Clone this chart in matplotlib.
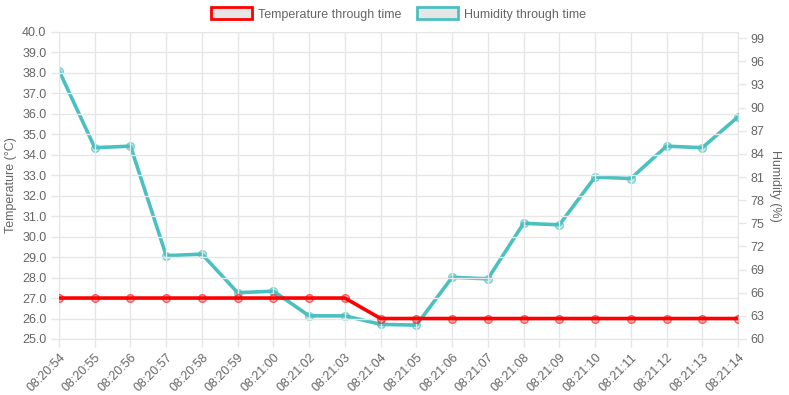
import matplotlib.pyplot as plt
from matplotlib.patches import Patch

# datos
times = ['08:20:54', '08:20:55', '08:20:56', '08:20:57', '08:20:58', '08:20:59',
         '08:21:00', '08:21:02', '08:21:03', '08:21:04', '08:21:05', '08:21:06',
         '08:21:07', '08:21:08', '08:21:09', '08:21:10', '08:21:11', '08:21:12',
         '08:21:13', '08:21:14']
temperature = [27, 27, 27, 27, 27, 27, 27, 27, 27, 26,
               26, 26, 26, 26, 26, 26, 26, 26, 26, 26]
humidity = [94.8, 84.8, 85, 70.8, 71, 66, 66.2, 63, 63, 61.9,
            61.8, 68, 67.8, 75, 74.8, 81, 80.8, 85, 84.8, 88.8]

red = '#ff0000'
teal = '#4bc0c0'
txt = '#666666'
grid = '#e6e6e6'

plt.rcParams['font.family'] = ['Liberation Sans', 'DejaVu Sans']

fig = plt.figure(figsize=(7.89, 3.95), dpi=100)
ax = fig.add_axes([0.0748, 0.1418, 0.8606, 0.7772])
ax2 = ax.twinx()

x = list(range(len(times)))

ax.plot(x, temperature, color=red, lw=2.6, marker='o', ms=5.5,
        mfc=(1, 0, 0, 0.25), mec=(1, 0, 0, 0.6), mew=1, zorder=3)
ax2.plot(x, humidity, color=teal, lw=2.6, marker='o', ms=5.5,
         mfc=(0.29, 0.75, 0.75, 0.3), mec=(0.29, 0.75, 0.75, 0.7), mew=1, zorder=3)
ax.set_zorder(ax2.get_zorder() + 1)
ax.patch.set_visible(False)

ax.set_xlim(0, len(times) - 1)
ax.set_ylim(25, 40)
ax.set_yticks([25 + i for i in range(16)])
ax.set_yticklabels(['%.1f' % (25 + i) for i in range(16)])
ax2.set_ylim(60, 99.8)
ax2.set_yticks(list(range(60, 100, 3)))

ax.set_xticks(x)
ax.set_xticklabels(times, rotation=45, ha='right', rotation_mode='anchor')

ax.grid(True, color=grid, lw=1)
ax.set_axisbelow(True)
for a in (ax, ax2):
    for s in a.spines.values():
        s.set_visible(False)
    a.tick_params(colors=txt, labelsize=9, length=6, width=1, pad=3)
    a.tick_params(axis='both', color=grid)
ax.spines['left'].set_visible(True)
ax.spines['left'].set_color(grid)
ax.spines['bottom'].set_visible(True)
ax.spines['bottom'].set_color(grid)
ax2.spines['right'].set_visible(True)
ax2.spines['right'].set_color(grid)

ax.set_ylabel('Temperature (°C)', color=txt, fontsize=9, labelpad=4)
ax2.set_ylabel('Humidity (%)', color=txt, fontsize=9, rotation=270, labelpad=12)

handles = [Patch(facecolor='#e6e6e6', edgecolor=red, lw=2),
           Patch(facecolor='#e6e6e6', edgecolor=teal, lw=2)]
leg = fig.legend(handles, ['Temperature through time', 'Humidity through time'],
                 loc='upper center', bbox_to_anchor=(0.505, 1.01), ncol=2,
                 frameon=False, fontsize=9, handlelength=3.3, handleheight=1.1,
                 columnspacing=1.2, handletextpad=0.5)
for t in leg.get_texts():
    t.set_color(txt)

fig.savefig('out.png', dpi=100)
